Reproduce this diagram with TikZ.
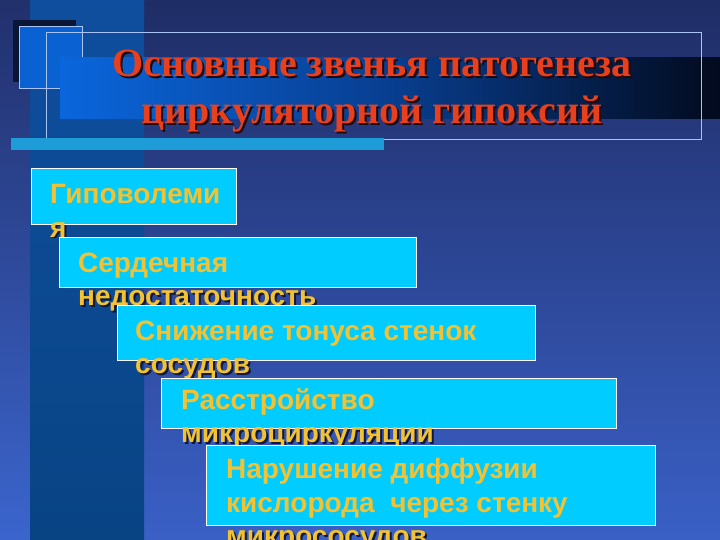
\documentclass[tikz,border=0pt]{standalone}
\usepackage{fontspec}
\setmainfont{Liberation Serif}
\newfontfamily\bodyfont{Liberation Sans}
\usetikzlibrary{positioning}
\definecolor{bgtop}{HTML}{1F2D66}
\definecolor{bgbot}{HTML}{3A60C6}
\definecolor{lbtop}{HTML}{22306C}
\definecolor{lbbot}{HTML}{3B65CD}
\definecolor{sttop}{HTML}{0F4E9E}
\definecolor{stbot}{HTML}{084484}
\definecolor{darksq}{HTML}{0A1636}
\definecolor{bluesq}{HTML}{0A62D2}
\definecolor{framec}{HTML}{A8C4F8}
\definecolor{barc}{HTML}{1E9CD8}
\definecolor{bandl}{HTML}{0A66DC}
\definecolor{bandm}{HTML}{083E90}
\definecolor{bandr}{HTML}{020A1E}
\definecolor{boxc}{HTML}{00CCFF}
\definecolor{txtc}{HTML}{F2C232}
\definecolor{shadc}{HTML}{101840}
\definecolor{titlec}{HTML}{E8401C}
\definecolor{tshadc}{HTML}{200808}
\tikzset{
  stagebox/.style={draw=white, line width=0.8pt, fill=boxc},
  stagetxt/.style={anchor=base west, inner sep=0pt, text=txtc, font=\bodyfont\bfseries\fontsize{28}{33}\selectfont},
  stageshd/.style={anchor=base west, inner sep=0pt, text=shadc, font=\bodyfont\bfseries\fontsize{28}{33}\selectfont},
  titletxt/.style={anchor=base, inner sep=0pt, text=titlec, font=\bfseries\fontsize{40}{46}\selectfont},
  titleshd/.style={anchor=base, inner sep=0pt, text=tshadc, font=\bfseries\fontsize{40}{46}\selectfont},
}
\begin{document}
\begin{tikzpicture}[x=1pt,y=-1pt]
\useasboundingbox (0,0) rectangle (720,540);
% background
\shade[top color=bgtop, bottom color=bgbot] (0,0) rectangle (720,540);
\shade[top color=lbtop, bottom color=lbbot] (0,0) rectangle (30,540);
\shade[top color=sttop, bottom color=stbot] (30,0) rectangle (144,540);
% title decoration
\fill[darksq] (13,20) rectangle (76,82);
\fill[bluesq] (19,26) rectangle (82,88);
\draw[framec, line width=0.7pt] (19,88) -- (19,26) -- (82,26) -- (82,60);
\draw[framec, line width=0.7pt] (19,88) -- (60,88);
\shade[left color=bandl, right color=bandr, middle color=bandm] (60,58) rectangle (720,119);
\draw[framec, line width=0.8pt] (46,32) rectangle (701,139);
\fill[barc] (11,138) rectangle (384,150);
% title
\node[titleshd] at (374,79) {Основные звенья патогенеза};
\node[titletxt] (t1) at (372,77) {Основные звенья патогенеза};
\node[titleshd] at (374,126) {циркуляторной гипоксий};
\node[titletxt] (t2) at (372,124) {циркуляторной гипоксий};
% stage 1
\node[stageshd] at (52,239) {я};
\draw[stagebox] (31,168) rectangle (236,224);
\node[stagetxt] (s1a) at (50,204) {Гиповолеми};
\node[stagetxt] (s1b) at (50,237) {я};
% stage 2
\node[stageshd] at (80,307) {недостаточность};
\draw[stagebox] (59,237) rectangle (416,287);
\node[stagetxt] (s2a) at (78,272) {Сердечная};
\node[stagetxt] (s2b) at (78,305) {недостаточность};
% stage 3
\node[stageshd] at (137,375) {сосудов};
\draw[stagebox] (117,305) rectangle (535,360);
\node[stagetxt] (s3a) at (135,340) {Снижение тонуса стенок};
\node[stagetxt] (s3b) at (135,373) {сосудов};
% stage 4
\node[stageshd] at (183,444) {микроциркуляции};
\draw[stagebox] (161,378) rectangle (616,428);
\node[stagetxt] (s4a) at (181,409) {Расстройство};
\node[stagetxt] (s4b) at (181,442) {микроциркуляции};
% stage 5
\node[stageshd] at (228,547) {микрососудов};
\draw[stagebox] (206,445) rectangle (655,525);
\node[stagetxt] (s5a) at (226,478) {Нарушение диффузии};
\node[stagetxt] (s5b) at (226,512) {кислорода\ \ через стенку};
\node[stagetxt] (s5c) at (226,545) {микрососудов};
\end{tikzpicture}
\end{document}
